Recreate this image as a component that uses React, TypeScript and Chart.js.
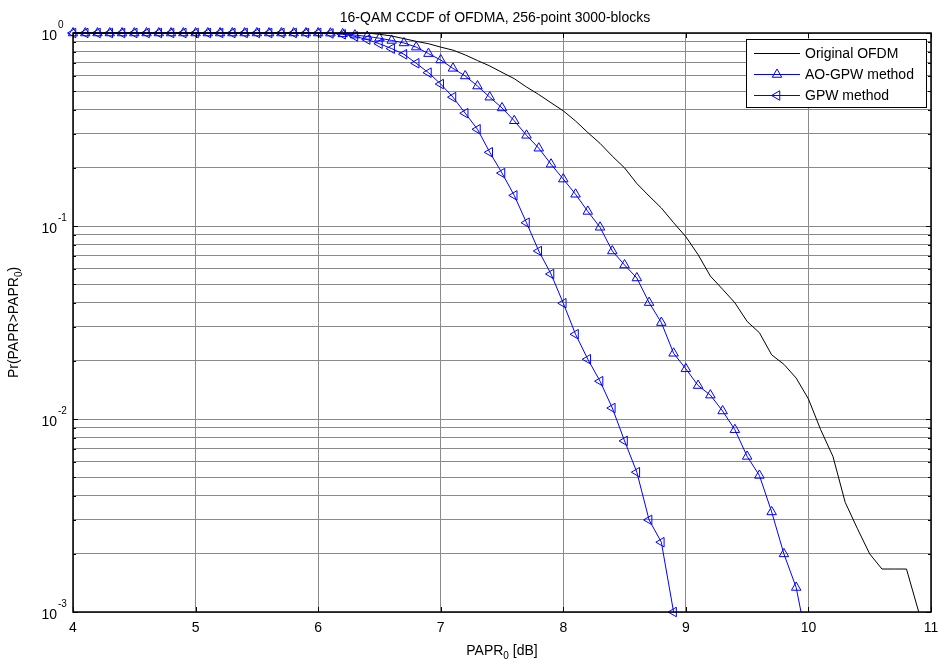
import React, { useEffect, useRef } from 'react';
import { Chart, registerables } from 'chart.js';

Chart.register(...registerables);

// ---------- data ----------
const chartTitle = '16-QAM CCDF of OFDMA, 256-point 3000-blocks';
const seriesNames = ['Original OFDM', 'AO-GPW method', 'GPW method'];

const papr = [
  4.0, 4.1, 4.2, 4.3, 4.4, 4.5, 4.6, 4.7, 4.8, 4.9,
  5.0, 5.1, 5.2, 5.3, 5.4, 5.5, 5.6, 5.7, 5.8, 5.9,
  6.0, 6.1, 6.2, 6.3, 6.4, 6.5, 6.6, 6.7, 6.8, 6.9,
  7.0, 7.1, 7.2, 7.3, 7.4, 7.5, 7.6, 7.7, 7.8, 7.9,
  8.0, 8.1, 8.2, 8.3, 8.4, 8.5, 8.6, 8.7, 8.8, 8.9,
  9.0, 9.1, 9.2, 9.3, 9.4, 9.5, 9.6, 9.7, 9.8, 9.9,
  10.0, 10.1, 10.2, 10.3, 10.4, 10.5, 10.6, 10.7, 10.8, 10.9,
];

const originalOFDM = [
  1, 1, 1, 1, 1, 1, 1, 1, 1, 1,
  1, 1, 1, 1, 1, 1, 1, 1, 1, 1,
  1, 1, 1, 1, 1, 0.985, 0.965, 0.935, 0.905, 0.88,
  0.845, 0.815, 0.77, 0.72, 0.675, 0.625, 0.58, 0.525, 0.48, 0.435,
  0.395, 0.35, 0.305, 0.268, 0.23, 0.2, 0.166, 0.143, 0.124, 0.104,
  0.088, 0.071, 0.055, 0.047, 0.04, 0.032, 0.028, 0.0215, 0.0192, 0.0163,
  0.0127, 0.0088, 0.0064, 0.0037, 0.0027, 0.002, 0.00167, 0.00167, 0.00167, 0.001,
];

const aoGpwMethod = [
  1, 1, 1, 1, 1, 1, 1, 1, 1, 1,
  1, 1, 1, 1, 1, 1, 1, 1, 1, 1,
  1, 0.998, 0.99, 0.975, 0.96, 0.94, 0.915, 0.888, 0.845, 0.782,
  0.725, 0.656, 0.599, 0.531, 0.465, 0.409, 0.351, 0.295, 0.253, 0.209,
  0.175, 0.146, 0.119, 0.0985, 0.0742, 0.0628, 0.0538, 0.0401, 0.0316, 0.0219,
  0.0182, 0.0149, 0.0133, 0.011, 0.0088, 0.0064, 0.0051, 0.0033, 0.002, 0.00134,
  0.00064,
];

const gpwMethod = [
  1, 1, 1, 1, 1, 1, 1, 1, 1, 1,
  1, 1, 1, 1, 1, 1, 1, 1, 1, 1,
  1, 0.995, 0.985, 0.96, 0.925, 0.88, 0.83, 0.776, 0.697, 0.623,
  0.544, 0.465, 0.384, 0.317, 0.241, 0.188, 0.144, 0.104, 0.0742, 0.0564,
  0.0398, 0.0275, 0.0204, 0.0157, 0.0114, 0.0077, 0.0053, 0.003, 0.0023, 0.001,
];

const xTicks = [4, 5, 6, 7, 8, 9, 10, 11];
const yTicks = [
  0.001, 0.002, 0.003, 0.004, 0.005, 0.006, 0.007, 0.008, 0.009,
  0.01, 0.02, 0.03, 0.04, 0.05, 0.06, 0.07, 0.08, 0.09,
  0.1, 0.2, 0.3, 0.4, 0.5, 0.6, 0.7, 0.8, 0.9, 1,
];
const yDecades = [1, 0.1, 0.01, 0.001];
const yDecadeExponents = ['0', '-1', '-2', '-3'];

// ---------- styling ----------
const FONT = '"Liberation Sans", Arial, Helvetica, sans-serif';
const MAIN = `14px ${FONT}`;
const SMALL = `10px ${FONT}`;
const BLUE = '#0000ff';
const GRID = '#8a8a8a';
const MARKER_R = 5.5;

type Piece = { t: string; sub?: boolean };

function richWidth(ctx: CanvasRenderingContext2D, pieces: Piece[]) {
  let w = 0;
  for (const p of pieces) {
    ctx.font = p.sub ? SMALL : MAIN;
    w += ctx.measureText(p.t).width;
  }
  return w;
}

function drawRich(ctx: CanvasRenderingContext2D, pieces: Piece[], cx: number, baseline: number) {
  const w = richWidth(ctx, pieces);
  let x = cx - w / 2;
  ctx.textAlign = 'left';
  ctx.textBaseline = 'alphabetic';
  for (const p of pieces) {
    ctx.font = p.sub ? SMALL : MAIN;
    ctx.fillText(p.t, x, baseline + (p.sub ? 4 : 0));
    x += ctx.measureText(p.t).width;
  }
}

function triPath(ctx: CanvasRenderingContext2D, cx: number, cy: number, r: number, left: boolean) {
  ctx.beginPath();
  if (!left) {
    ctx.moveTo(cx, cy - r);
    ctx.lineTo(cx + 0.866 * r, cy + 0.5 * r);
    ctx.lineTo(cx - 0.866 * r, cy + 0.5 * r);
  } else {
    ctx.moveTo(cx - r, cy);
    ctx.lineTo(cx + 0.5 * r, cy - 0.866 * r);
    ctx.lineTo(cx + 0.5 * r, cy + 0.866 * r);
  }
  ctx.closePath();
  ctx.stroke();
}

const decorPlugin = {
  id: 'matlabDecor',
  afterDatasetsDraw(chart: any) {
    const { ctx, chartArea: a, scales } = chart;
    const x = scales.x;
    const y = scales.y;
    ctx.save();
    ctx.strokeStyle = '#000';
    ctx.lineWidth = 1;
    ctx.beginPath();
    for (const v of xTicks) {
      const px = Math.round(x.getPixelForValue(v)) + 0.5;
      ctx.moveTo(px, a.bottom);
      ctx.lineTo(px, a.bottom - 5);
      ctx.moveTo(px, a.top);
      ctx.lineTo(px, a.top + 5);
    }
    for (const v of yTicks) {
      const py = Math.round(y.getPixelForValue(v)) + 0.5;
      const len = yDecades.includes(v) ? 5 : 3;
      ctx.moveTo(a.left, py);
      ctx.lineTo(a.left + len, py);
      ctx.moveTo(a.right, py);
      ctx.lineTo(a.right - len, py);
    }
    ctx.stroke();
    // axes box
    ctx.lineWidth = 1.5;
    ctx.strokeRect(a.left, a.top, a.right - a.left, a.bottom - a.top);
    ctx.restore();
  },
  afterDraw(chart: any) {
    const { ctx, chartArea: a, scales } = chart;
    const x = scales.x;
    const y = scales.y;
    ctx.save();
    ctx.fillStyle = '#000';

    // title
    ctx.font = MAIN;
    ctx.textAlign = 'center';
    ctx.textBaseline = 'alphabetic';
    ctx.fillText(chartTitle, 495, 22);

    // x tick labels
    for (const v of xTicks) {
      ctx.font = MAIN;
      ctx.textAlign = 'center';
      ctx.fillText(String(v), x.getPixelForValue(v), 632);
    }
    // y tick labels
    yDecades.forEach((v, i) => {
      const py = y.getPixelForValue(v);
      ctx.font = MAIN;
      ctx.textAlign = 'right';
      ctx.fillText('10', 57, py + 6.5);
      ctx.font = SMALL;
      ctx.textAlign = 'left';
      ctx.fillText(yDecadeExponents[i], 58, py - 5);
    });

    // x axis title
    drawRich(ctx, [{ t: 'PAPR' }, { t: '0', sub: true }, { t: ' [dB]' }], (a.left + a.right) / 2, 655);

    // y axis title
    ctx.save();
    ctx.translate(18, (a.top + a.bottom) / 2);
    ctx.rotate(-Math.PI / 2);
    drawRich(ctx, [{ t: 'Pr(PAPR>PAPR' }, { t: '0', sub: true }, { t: ')' }], 0, 0);
    ctx.restore();

    // legend
    const lx = 746, ly = 39, lw = 180, lh = 68;
    ctx.fillStyle = '#fff';
    ctx.fillRect(lx, ly, lw, lh);
    ctx.strokeStyle = '#000';
    ctx.lineWidth = 1;
    ctx.strokeRect(lx + 0.5, ly + 0.5, lw, lh);
    const rows = [14.5, 35.5, 56.5];
    chart.data.datasets.forEach((ds: any, i: number) => {
      const ry = ly + rows[i];
      ctx.strokeStyle = ds.borderColor;
      ctx.lineWidth = 1;
      ctx.beginPath();
      ctx.moveTo(754, ry);
      ctx.lineTo(800, ry);
      ctx.stroke();
      if (ds.pointRadius > 0) {
        triPath(ctx, 777, ry, MARKER_R, ds.pointRotation === -90);
      }
      ctx.fillStyle = '#000';
      ctx.font = MAIN;
      ctx.textAlign = 'left';
      ctx.textBaseline = 'middle';
      ctx.fillText(ds.label, 805, ry + 0.5);
    });
    ctx.restore();
  },
};

function toPoints(values: number[]) {
  return values.map((v, i) => ({ x: papr[i], y: v }));
}

export default function App() {
  const canvasRef = useRef<HTMLCanvasElement | null>(null);

  useEffect(() => {
    if (!canvasRef.current) return;
    const chart = new Chart(canvasRef.current, {
      type: 'line',
      data: {
        datasets: [
          {
            label: seriesNames[0],
            data: toPoints(originalOFDM),
            borderColor: '#000000',
            borderWidth: 1,
            pointRadius: 0,
            tension: 0,
            clip: { left: 8, top: 8, right: 0, bottom: 0 } as any,
          },
          {
            label: seriesNames[1],
            data: toPoints(aoGpwMethod),
            borderColor: BLUE,
            borderWidth: 1,
            pointStyle: 'triangle',
            pointRadius: MARKER_R,
            pointRotation: 0,
            pointBorderColor: BLUE,
            pointBackgroundColor: 'rgba(0,0,0,0)',
            pointBorderWidth: 1,
            tension: 0,
            clip: { left: 8, top: 8, right: 0, bottom: 0 } as any,
          },
          {
            label: seriesNames[2],
            data: toPoints(gpwMethod),
            borderColor: BLUE,
            borderWidth: 1,
            pointStyle: 'triangle',
            pointRadius: MARKER_R,
            pointRotation: -90,
            pointBorderColor: BLUE,
            pointBackgroundColor: 'rgba(0,0,0,0)',
            pointBorderWidth: 1,
            tension: 0,
            clip: { left: 8, top: 8, right: 0, bottom: 8 } as any,
          },
        ],
      },
      options: {
        animation: false,
        responsive: false,
        maintainAspectRatio: false,
        layout: { padding: { left: 73, top: 33, right: 9, bottom: 49 } },
        plugins: {
          legend: { display: false },
          tooltip: { enabled: false },
          title: { display: false },
        },
        scales: {
          x: {
            type: 'linear',
            min: 4,
            max: 11,
            afterBuildTicks: (s: any) => {
              s.ticks = xTicks.map((v) => ({ value: v }));
            },
            ticks: { display: false },
            grid: { color: GRID, lineWidth: 1, drawTicks: false },
            border: { display: false },
          },
          y: {
            type: 'logarithmic',
            min: 0.001,
            max: 1,
            afterBuildTicks: (s: any) => {
              s.ticks = yTicks.map((v) => ({ value: v }));
            },
            ticks: { display: false },
            grid: { color: GRID, lineWidth: 1, drawTicks: false },
            border: { display: false },
          },
        },
      },
      plugins: [decorPlugin],
    });
    return () => chart.destroy();
  }, []);

  return (
    <div style={{ position: 'absolute', left: 0, top: 0, width: 940, height: 661, background: '#fff' }}>
      <canvas ref={canvasRef} width={940} height={661} style={{ display: 'block' }} />
    </div>
  );
}
